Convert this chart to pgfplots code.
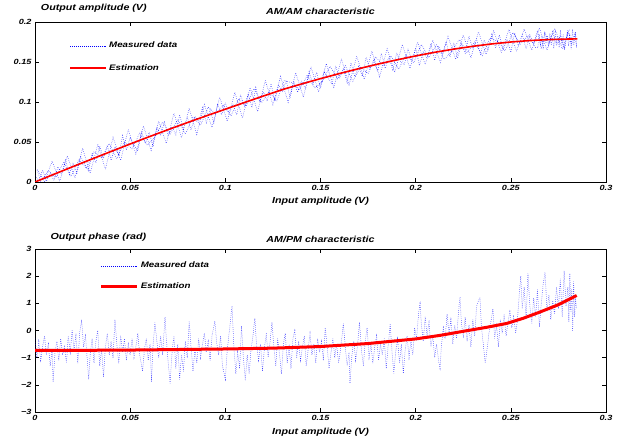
\documentclass[border=0pt]{standalone}
\usepackage{fontspec}
\setmainfont{Liberation Sans}[FakeStretch=1.22]
\usepackage{pgfplots}
\pgfplotsset{compat=1.18}
\usepackage{pgfplotstable}

% AM/AM measured data (read off the scatter cloud)
\pgfplotstableread{
x y
0.000 0.008
0.002 0.001
0.004 0.015
0.006 0.001
0.008 0.011
0.010 0.002
0.012 0.019
0.014 0.0095
0.016 0.0285
0.018 0.0094
0.020 0.024
0.022 0.011
0.024 0.032
0.026 0.023
0.028 0.014
0.030 0.035
0.032 0.024
0.034 0.045
0.036 0.0295
0.038 0.046
0.040 0.027
0.042 0.044
0.044 0.033
0.046 0.058
0.048 0.040
0.050 0.0555
0.052 0.046
0.054 0.039
0.056 0.063
0.058 0.048
0.060 0.062
0.062 0.044
0.064 0.069
0.066 0.058
0.068 0.075
0.070 0.0575
0.072 0.069
0.074 0.059
0.076 0.084
0.078 0.066
0.080 0.081
0.082 0.065
0.084 0.082
0.086 0.076
0.088 0.093
0.090 0.074
0.092 0.090
0.094 0.073
0.096 0.098
0.098 0.084
0.100 0.099
0.102 0.086
0.104 0.097
0.106 0.084
0.108 0.109
0.110 0.095
0.112 0.110
0.114 0.093
0.116 0.118
0.118 0.100
0.120 0.1125
0.122 0.101
0.124 0.123
0.126 0.101
0.128 0.121
0.130 0.1125
0.132 0.127
0.134 0.105
0.136 0.126
0.138 0.112
0.140 0.1265
0.142 0.117
0.144 0.138
0.146 0.122
0.148 0.137
0.150 0.117
0.152 0.138
0.154 0.130
0.156 0.123
0.158 0.145
0.160 0.1295
0.162 0.142
0.164 0.124
0.166 0.149
0.168 0.132
0.170 0.1445
0.172 0.132
0.174 0.156
0.176 0.141
0.178 0.153
0.180 0.138
0.182 0.161
0.184 0.142
0.186 0.156
0.188 0.139
0.190 0.1615
0.192 0.1505
0.194 0.1465
0.196 0.1665
0.198 0.1515
0.200 0.1675
0.202 0.1455
0.204 0.1635
0.206 0.154
0.208 0.173
0.210 0.152
0.212 0.170
0.214 0.1597
0.216 0.1755
0.218 0.1563
0.220 0.174
0.222 0.1547
0.224 0.1724
0.226 0.161
0.228 0.182
0.230 0.1665
0.232 0.179
0.234 0.1597
0.236 0.1774
0.238 0.164
0.240 0.1845
0.242 0.168
0.244 0.1835
0.246 0.165
0.248 0.1785
0.250 0.162
0.252 0.1864
0.254 0.1697
0.256 0.184
0.258 0.1664
0.260 0.1838
0.262 0.173
0.264 0.1893
0.266 0.1666
0.268 0.1868
0.270 0.172
0.272 0.188
0.274 0.1703
0.276 0.1835
0.278 0.1666
0.280 0.1897
0.282 0.1718
0.284 0.1879
0.2845 0.168
0.2838 0.186
0.2831 0.171
0.2824 0.191
0.2817 0.166
0.2810 0.183
0.2803 0.170
0.2796 0.188
0.2789 0.174
0.2782 0.165
0.2775 0.185
0.2768 0.172
0.2761 0.190
0.2754 0.168
0.2747 0.182
0.2740 0.175
0.2733 0.187
0.2726 0.167
0.2719 0.180
0.2712 0.171
0.2705 0.186
0.2698 0.169
0.2691 0.183
0.2684 0.173
0.2677 0.188
0.2670 0.166
0.2663 0.181
0.2656 0.170
0.2649 0.185
0.2642 0.168
0.263 0.168
0.259 0.183
0.255 0.172
0.251 0.187
0.247 0.164
0.243 0.176
0.239 0.180
0.235 0.158
0.231 0.175
0.227 0.1615
0.223 0.178
0.219 0.1636
0.215 0.1531
0.211 0.1715
0.207 0.1555
0.203 0.172
0.199 0.149
0.195 0.159
0.191 0.141
0.187 0.1575
0.183 0.1455
0.179 0.1565
0.175 0.1355
0.171 0.144
0.167 0.1255
0.163 0.1455
0.159 0.129
0.155 0.1445
0.151 0.1255
0.147 0.1175
0.143 0.1335
0.139 0.115
0.135 0.124
0.131 0.127
0.127 0.101
0.123 0.113
0.119 0.099
0.115 0.1165
0.111 0.095
0.107 0.104
0.103 0.0825
0.099 0.096
0.095 0.085
0.091 0.0935
0.087 0.071
0.083 0.081
0.079 0.060
0.075 0.078
0.071 0.060
0.067 0.075
0.063 0.056
0.059 0.046
0.055 0.061
0.051 0.0415
0.047 0.050
0.043 0.029
0.039 0.048
0.035 0.030
0.031 0.038
0.027 0.017
0.023 0.028
0.019 0.007
0.015 0.0245
0.011 0.006
0.007 0.014
0.003 0.001
0.001 0.016
0.005 0.0005
0.009 0.026
0.013 0.001
0.017 0.0325
0.021 0.005
0.025 0.042
0.029 0.011
0.033 0.047
0.037 0.016
0.041 0.056
0.045 0.027
0.049 0.0655
0.053 0.035
0.057 0.070
0.061 0.0395
0.065 0.076
0.069 0.048
0.073 0.086
0.077 0.0555
0.081 0.092
0.085 0.0595
0.089 0.097
0.093 0.068
0.097 0.106
0.101 0.076
0.105 0.112
0.109 0.080
0.113 0.118
0.117 0.088
0.121 0.127
0.125 0.0965
0.129 0.132
0.133 0.0995
0.137 0.1365
0.141 0.106
0.145 0.144
0.149 0.1125
0.153 0.148
0.157 0.1185
0.161 0.154
0.165 0.1215
0.169 0.157
0.173 0.1285
0.177 0.1635
0.181 0.1315
0.185 0.1665
0.189 0.137
0.193 0.172
0.197 0.142
0.201 0.175
0.205 0.147
0.209 0.1775
0.213 0.1493
0.217 0.182
0.221 0.1533
0.225 0.1837
0.229 0.1553
0.233 0.1875
0.237 0.1597
0.241 0.1888
0.245 0.1618
0.249 0.1907
0.253 0.1635
0.257 0.1912
0.261 0.1649
0.265 0.1925
0.269 0.1649
0.273 0.1922
0.277 0.1665
0.281 0.1917
}\amdata

\pgfplotstableread{
x y
0.00 0
0.01 0.0097
0.02 0.0193
0.03 0.0288
0.04 0.0382
0.05 0.0475
0.06 0.0566
0.07 0.0655
0.08 0.0742
0.09 0.0827
0.10 0.0910
0.11 0.0993
0.12 0.1075
0.13 0.1155
0.14 0.1225
0.15 0.1292
0.16 0.1356
0.17 0.1416
0.18 0.1473
0.19 0.1526
0.20 0.1576
0.21 0.1621
0.22 0.1661
0.23 0.1696
0.24 0.1726
0.25 0.1750
0.26 0.1768
0.27 0.1780
0.28 0.1787
0.285 0.1789
}\amest

% AM/PM measured data
\pgfplotstableread{
x y
0.0000 -0.3
0.0010 -1.0
0.0020 -0.4
0.0030 -1.1
0.0040 -0.6
0.0050 -0.2
0.0060 -0.9
0.0070 -0.5
0.0080 -1.3
0.0090 -0.7
0.0095 -1.9
0.0105 -0.8
0.0115 -0.4
0.0125 -1.1
0.0135 -0.3
0.0145 -0.9
0.0155 -0.6
0.0165 -1.2
0.0175 -0.2
0.0185 -0.8
0.0195 0.0
0.0205 -0.7
0.0215 -0.2
0.0225 -1.2
0.0235 -0.1
0.0245 0.4
0.0255 -0.6
0.0265 -0.2
0.0275 -1.1
0.0282 -1.8
0.0290 -0.9
0.0300 -0.3
0.0310 -1.2
0.0320 -0.4
0.0330 0.0
0.0340 -1.3
0.0350 -0.7
0.0360 -1.7
0.0370 -0.6
0.0380 -0.1
0.0390 -0.9
0.0400 -0.4
0.0410 -1.0
0.0420 0.4
0.0430 -0.5
0.0440 -1.2
0.0450 -0.2
0.0460 -0.8
0.0470 -0.3
0.0480 -1.1
0.0490 -0.5
0.0500 -0.9
0.0510 -0.3
0.0520 -1.0
0.0530 -0.6
0.0540 -0.1
0.0550 -0.9
0.0565 -1.5
0.0575 -0.7
0.0585 -0.3
0.0595 -1.1
0.0605 -0.5
0.0612 -1.9
0.0620 -0.6
0.0630 0.3
0.0640 -0.4
0.0650 -1.0
0.0660 -0.2
0.0670 -0.9
0.0683 0.5
0.0690 -0.3
0.0700 -1.2
0.0710 -1.95
0.0720 -0.8
0.0730 -0.2
0.0740 -1.4
0.0750 -0.5
0.0760 -1.8
0.0770 -0.9
0.0780 -1.5
0.0790 -0.4
0.0800 -1.0
0.0810 0.35
0.0820 -0.6
0.0830 -1.5
0.0840 -0.7
0.0850 -1.2
0.0860 -0.3
0.0870 -1.0
0.0880 -0.5
0.0890 -0.1
0.0900 -0.8
0.0910 -0.4
0.0920 -1.1
0.0930 -0.2
0.0945 0.35
0.0955 -0.5
0.0965 -0.9
0.0975 -0.2
0.0985 -1.3
0.1000 -1.8
0.1010 -0.7
0.1020 -0.1
0.1035 0.9
0.1045 -0.6
0.1055 -1.6
0.1065 -0.8
0.1075 -1.4
0.1085 0.17
0.1095 -1.0
0.1105 -1.85
0.1115 -0.9
0.1125 -1.6
0.1135 -0.7
0.1145 -0.2
0.1155 0.45
0.1165 -0.6
0.1175 -1.1
0.1185 -0.5
0.1195 -1.5
0.1205 -0.7
0.1215 -0.1
0.1225 -1.0
0.1235 -0.4
0.1245 0.3
0.1255 -0.6
0.1265 -1.3
0.1275 -0.3
0.1285 -0.9
0.1295 -1.6
0.1305 -0.5
0.1315 -0.1
0.1325 -1.2
0.1335 -0.6
0.1345 -1.4
0.1355 -0.3
0.1365 0.0
0.1375 -1.0
0.1385 -0.4
0.1395 -1.1
0.1405 -0.6
0.1415 -0.2
0.1425 -1.3
0.1435 -0.7
0.1445 -0.1
0.1455 -0.9
0.1465 -0.5
0.1475 -1.2
0.1485 -0.3
0.1495 -0.8
0.1505 -0.4
0.1515 -1.1
0.1525 0.1
0.1535 -0.6
0.1545 -1.4
0.1555 -0.8
0.1565 -0.3
0.1575 -1.0
0.1585 -0.5
0.1595 -1.2
0.1605 -0.7
0.1620 0.25
0.1630 -0.6
0.1640 -1.3
0.1650 -0.8
0.1655 -1.95
0.1665 -0.9
0.1675 -0.4
0.1685 -1.1
0.1695 -0.5
0.1705 0.3
0.1715 -0.7
0.1725 -1.3
0.1735 -0.4
0.1745 0.1
0.1755 -1.0
0.1765 -0.5
0.1775 -1.2
0.1785 -0.6
0.1795 -0.2
0.1805 -1.1
0.1815 -0.5
0.1825 -0.9
0.1835 -0.3
0.1845 -1.4
0.1855 -0.6
0.1866 0.25
0.1875 -0.7
0.1885 -1.58
0.1895 -0.8
0.1905 -0.3
0.1915 -1.2
0.1925 -0.5
0.1935 -1.58
0.1945 -0.7
0.1955 -0.2
0.1965 -1.0
0.1975 -0.4
0.1985 -0.9
0.1995 0.1
0.2005 -0.3
0.2015 0.6
0.2023 0.99
0.2030 0.2
0.2040 -0.4
0.2050 0.5
0.2060 -0.2
0.2070 0.3
0.2080 -0.6
0.2090 -0.2
0.2100 -1.0
0.2110 -0.5
0.2120 -1.1
0.2128 -1.4
0.2135 -0.6
0.2145 0.1
0.2155 -0.3
0.2165 0.6
0.2175 -0.1
0.2185 0.4
0.2195 -0.5
0.2205 0.2
0.2215 -0.3
0.2225 0.7
0.2233 1.23
0.2240 0.3
0.2250 -0.2
0.2260 0.5
0.2270 -0.4
0.2280 0.2
0.2290 -0.6
0.2300 0.4
0.2310 -0.2
0.2320 0.9
0.2338 1.23
0.2345 0.2
0.2355 -0.5
0.2365 -1.2
0.2375 -0.7
0.2385 -0.1
0.2395 0.3
0.2406 0.8
0.2415 -0.3
0.2425 0.2
0.2435 -0.6
0.2445 0.4
0.2455 -0.1
0.2465 0.6
0.2475 -0.2
0.2485 0.3
0.2495 0.7
0.2505 0.1
0.2515 0.5
0.2525 -0.1
0.2535 0.4
0.2545 1.4
0.2552 2.0
0.2560 0.8
0.2570 1.6
0.2580 0.4
0.2590 2.1
0.2600 0.9
0.2610 0.25
0.2620 1.2
0.2630 0.5
0.2640 1.5
0.2650 0.13
0.2660 1.0
0.2670 1.7
0.2680 2.15
0.2690 0.7
0.2700 1.3
0.2710 0.4
0.2720 1.1
0.2730 0.6
0.2740 1.6
0.2750 0.8
0.2760 1.9
0.2770 0.5
0.2780 2.2
0.2790 0.9
0.2800 1.6
0.2805 0.3
0.2810 2.1
0.2815 0.7
0.2820 1.5
0.2825 0.0
0.2830 1.8
0.2835 0.5
0.2840 1.2
0.2845 0.8
}\pmdata

\pgfplotstableread{
x y
0.000 -0.73
0.025 -0.73
0.050 -0.72
0.075 -0.70
0.100 -0.68
0.125 -0.65
0.150 -0.59
0.175 -0.48
0.200 -0.31
0.2128 -0.18
0.225 -0.03
0.2375 0.12
0.2478 0.26
0.2565 0.45
0.2653 0.68
0.275 0.95
0.2846 1.29
}\pmest

\newcommand\lblfont{\fontsize{8.8}{10}\selectfont\bfseries\itshape}
\pgfplotsset{
  ampstyle/.style={
    scale only axis, width=571bp,
    xmin=0, xmax=0.3,
    xtick={0,0.05,0.1,0.15,0.2,0.25,0.3},
    xticklabels={0,0.05,0.1,0.15,0.2,0.25,0.3},
    tick align=inside, major tick length=4bp,
    axis line style={line width=0.8bp},
    every tick/.style={black, line width=0.6bp},
    /pgf/number format/assume math mode=true,
    tick label style={font=\fontsize{7.5}{9}\selectfont\bfseries\itshape},
    every axis x label/.style={at={(axis description cs:0.5,0)}, anchor=base, yshift=-22bp, font=\lblfont},
    every axis title/.style={at={(axis description cs:0.5,1)}, anchor=base, yshift=7bp, font=\lblfont},
    legend style={draw=none, fill=none, anchor=north west,
      font=\fontsize{8}{9.5}\selectfont\bfseries\itshape},
    legend cell align=left,
    legend image code/.code={\draw[##1] (0bp,0bp) -- (36bp,0bp);},
    xlabel={Input amplitude (V)},
  },
  meas/.style={blue, line width=0.5bp, dash pattern=on 0.45bp off 1.5bp},
}

\begin{document}
\begin{tikzpicture}
\path[use as bounding box] (0,0) rectangle (636bp,443bp);
\begin{axis}[ampstyle,
  at={(35bp,261bp)}, anchor=south west, height=160bp,
  ymin=0, ymax=0.2,
  ytick={0,0.05,0.1,0.15,0.2},
  yticklabels={0,0.05,0.1,0.15,0.2},
  every axis y label/.style={at={(axis description cs:0.103,1)}, anchor=base, yshift=11bp, font=\lblfont},
  ylabel={Output amplitude (V)},
  title={AM/AM characteristic},
  legend style={at={(axis description cs:0.055,0.9)}, row sep=11bp},
]
\addplot[meas] table {\amdata};
\addlegendentry{Measured data}
\addplot[red, line width=1.6bp] table {\amest};
\addlegendentry{Estimation}
\end{axis}

\begin{axis}[ampstyle,
  at={(35bp,31bp)}, anchor=south west, height=163bp,
  ymin=-3, ymax=3,
  ytick={-3,-2,-1,0,1,2,3},
  yticklabels={−3,−2,−1,0,1,2,3},
  every axis y label/.style={at={(axis description cs:0.111,1)}, anchor=base, yshift=10bp, font=\lblfont},
  ylabel={Output phase (rad)},
  title={AM/PM characteristic},
  legend style={at={(axis description cs:0.108,0.945)}, row sep=9bp},
]
\addplot[meas] table {\pmdata};
\addlegendentry{Measured data}
\addplot[red, line width=3bp] table {\pmest};
\addlegendentry{Estimation}
\end{axis}
\end{tikzpicture}
\end{document}
